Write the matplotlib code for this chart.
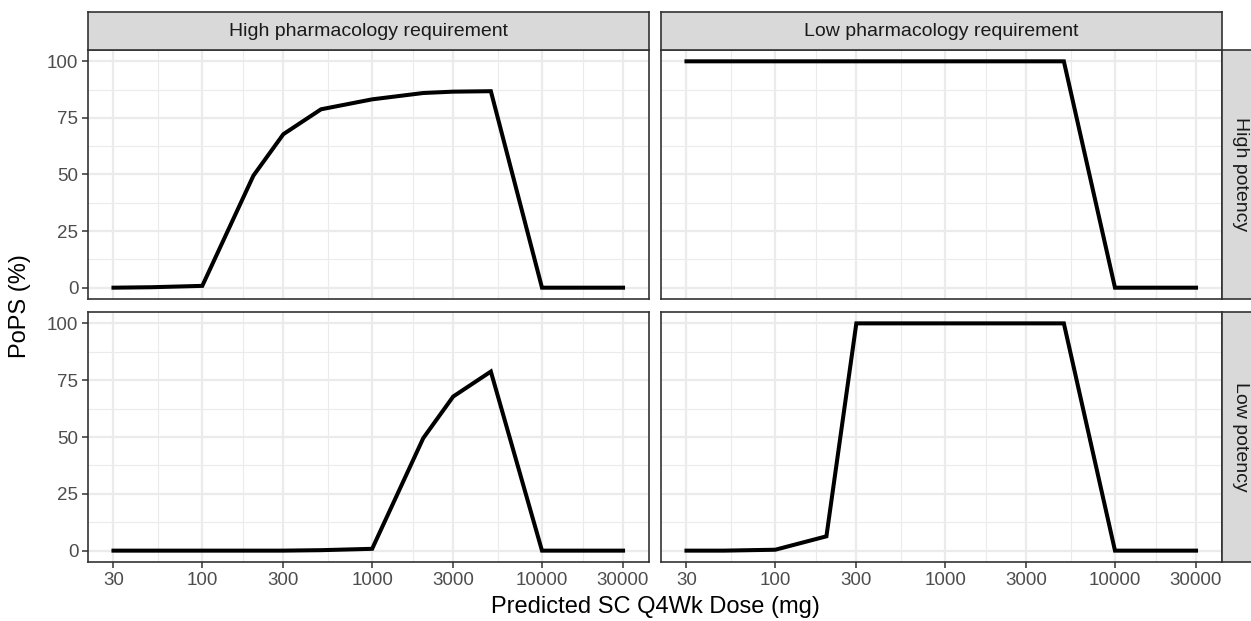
import numpy as np
import matplotlib.pyplot as plt

plt.rcParams['font.family'] = ['Liberation Sans', 'DejaVu Sans']

# Dose grid (mg) and PoPS (%) for each potency / pharmacology scenario
doses = [30, 50, 100, 200, 300, 500, 1000, 2000, 3000, 5000, 10000, 30000]
high_pot_high_pharm = [0, 0.2, 0.8, 49.5, 67.8, 78.8, 83.2, 86.0, 86.6, 86.8, 0, 0]
high_pot_low_pharm = [100, 100, 100, 100, 100, 100, 100, 100, 100, 100, 0, 0]
low_pot_high_pharm = [0, 0, 0, 0, 0, 0.2, 0.8, 49.5, 67.8, 78.8, 0, 0]
low_pot_low_pharm = [0, 0, 0.4, 6.3, 100, 100, 100, 100, 100, 100, 0, 0]

col_labels = ['High pharmacology requirement', 'Low pharmacology requirement']
row_labels = ['High potency', 'Low potency']
panel_data = [[high_pot_high_pharm, high_pot_low_pharm],
              [low_pot_high_pharm, low_pot_low_pharm]]

x_breaks = [30, 100, 300, 1000, 3000, 10000, 30000]
x_labels = ['30', '100', '300', '1000', '3000', '10000', '30000']
y_breaks = [0, 25, 50, 75, 100]

W, H = 1251, 621
fig = plt.figure(figsize=(W / 100, H / 100), dpi=100)

border = '#333333'
grid_col = '#EBEBEB'
strip_fill = '#D9D9D9'

# panel boxes in pixels: (left, top, right, bottom)
col_x = [(88, 648.5), (661, 1221.5)]
row_y = [(50, 299), (312, 562)]


def px_rect(x0, y0, x1, y1):
    return [x0 / W, 1 - y1 / H, (x1 - x0) / W, (y1 - y0) / H]


# log-spaced minor breaks halfway between the major ones
lb = np.log10(x_breaks)
x_minor = 10 ** ((lb[:-1] + lb[1:]) / 2)
y_minor = [12.5, 37.5, 62.5, 87.5]

xlim = (10 ** (lb[0] - 0.05 * (lb[-1] - lb[0])), 10 ** (lb[-1] + 0.05 * (lb[-1] - lb[0])))

for r in range(2):
    for c in range(2):
        x0, x1 = col_x[c]
        y0, y1 = row_y[r]
        ax = fig.add_axes(px_rect(x0, y0, x1, y1))
        ax.set_xscale('log')
        ax.set_xlim(*xlim)
        ax.set_ylim(-5, 105)

        for v in x_minor:
            ax.axvline(v, color=grid_col, lw=0.8, zorder=0)
        for v in y_minor:
            ax.axhline(v, color=grid_col, lw=0.8, zorder=0)
        for v in x_breaks:
            ax.axvline(v, color=grid_col, lw=1.6, zorder=0)
        for v in y_breaks:
            ax.axhline(v, color=grid_col, lw=1.6, zorder=0)

        ax.plot(doses, panel_data[r][c], color='black', lw=2.9,
                solid_joinstyle='miter', zorder=3)

        ax.set_xticks(x_breaks)
        ax.set_xticks([], minor=True)
        ax.set_yticks(y_breaks)
        ax.set_yticks([], minor=True)
        if r == 1:
            ax.set_xticklabels(x_labels)
        else:
            ax.tick_params(axis='x', bottom=False, labelbottom=False)
        if c == 0:
            ax.set_yticklabels([str(v) for v in y_breaks])
        else:
            ax.tick_params(axis='y', left=False, labelleft=False)
        ax.tick_params(length=4, width=1.1, color=border, labelcolor='#4D4D4D',
                       labelsize=13.5, pad=3)

        for sp in ax.spines.values():
            sp.set_color(border)
            sp.set_linewidth(1.2)
        ax.set_facecolor('white')

# column strips along the top
for c in range(2):
    x0, x1 = col_x[c]
    sax = fig.add_axes(px_rect(x0, 12, x1, 50))
    sax.set_facecolor(strip_fill)
    sax.set_xticks([])
    sax.set_yticks([])
    for sp in sax.spines.values():
        sp.set_color(border)
        sp.set_linewidth(1.2)
    sax.text(0.5, 0.5, col_labels[c], transform=sax.transAxes, ha='center',
             va='center', fontsize=14, color='#1A1A1A')

# row strips on the right
for r in range(2):
    y0, y1 = row_y[r]
    sax = fig.add_axes(px_rect(1221.5, y0, 1260, y1))
    sax.set_facecolor(strip_fill)
    sax.set_xticks([])
    sax.set_yticks([])
    for sp in sax.spines.values():
        sp.set_color(border)
        sp.set_linewidth(1.2)
    sax.text(0.5, 0.5, row_labels[r], transform=sax.transAxes, ha='center',
             va='center', rotation=-90, fontsize=14, color='#1A1A1A')

fig.text(655 / W, 1 - 607 / H, 'Predicted SC Q4Wk Dose (mg)', ha='center',
         va='center', fontsize=17, color='black')
fig.text(20 / W, 1 - 306 / H, 'PoPS (%)', ha='center', va='center',
         rotation=90, fontsize=17, color='black')

fig.savefig('out.png', dpi=100, facecolor='white')
